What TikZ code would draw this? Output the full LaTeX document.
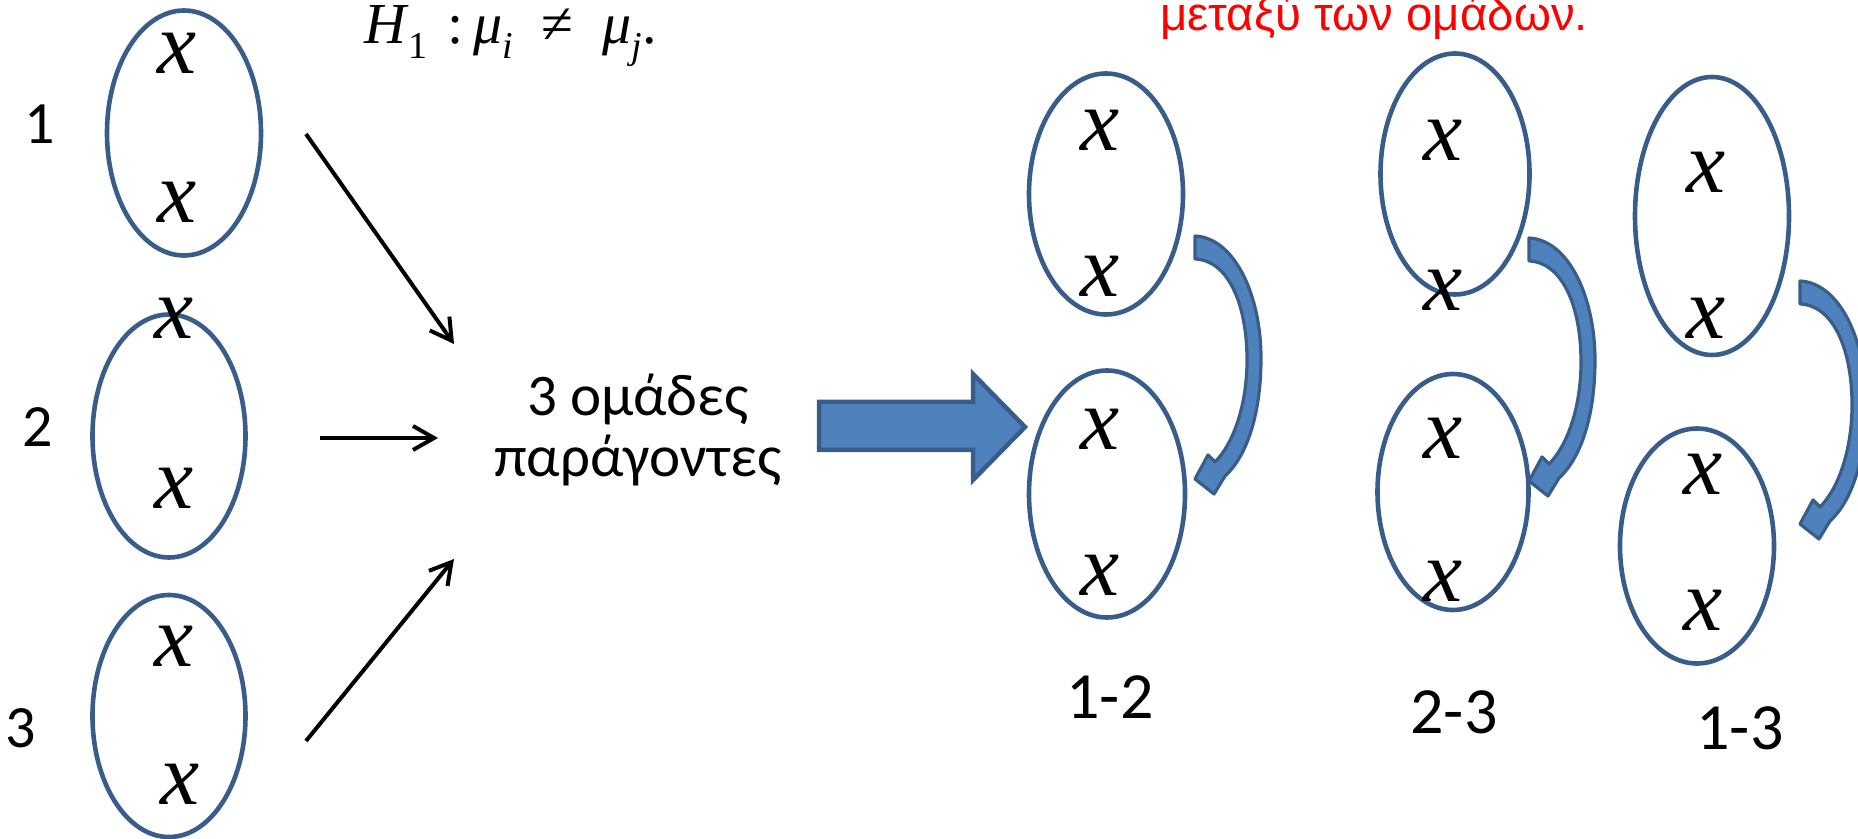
\documentclass[tikz,border=0pt]{standalone}
\usepackage{fontspec}
\usetikzlibrary{shapes.geometric,arrows.meta}
\newfontfamily\calfont{Carlito}
\newfontfamily\lser{Liberation Serif}
\newfontfamily\lsans{Liberation Sans}
\definecolor{ol}{HTML}{385D8A}
\definecolor{fl}{HTML}{4F81BD}
\newcommand\curvarrow[1]{%
  \filldraw[curv,shift={#1}] (0,0) .. controls (40,2) and (66,60) .. (66,122)
    .. controls (66,182) and (50,222) .. (30,240)
    -- (19,258) -- (0,243) -- (13,219) -- (20,226)
    .. controls (38,208) and (52,170) .. (52,124)
    .. controls (52,66) and (32,24) .. (0,23) -- cycle;}
\newcommand\subtxt[1]{\raisebox{-0.25em}{\fontsize{19}{19}\selectfont #1}}
\begin{document}
\begin{tikzpicture}[x=0.5pt,y=-0.5pt,
  ell/.style={ellipse, draw=ol, line width=2.3pt, inner sep=0pt},
  xx/.style={font=\fontsize{44}{44}\selectfont\lser\itshape, inner sep=0pt},
  lab/.style={font=\fontsize{30}{30}\selectfont\calfont, inner sep=0pt},
  pairlab/.style={font=\fontsize{33}{33}\selectfont\calfont, inner sep=0pt},
  blk/.style={line width=2pt, -{Straight Barb[length=10.5pt,width=12pt]}},
  curv/.style={fill=fl, draw=ol, line width=1.6pt, line join=round},
]
\useasboundingbox (0,0) rectangle (1858,839);
\clip (0,0) rectangle (1858,839);

% header texts
\node[anchor=base west, inner sep=0pt, font=\fontsize{29}{29}\selectfont\lser] (h1) at (364,44)
  {\textit{H}\subtxt{1}\,\,:\,\textit{μ}\subtxt{\textit{i}}\enspace≠\enspace\textit{μ}\subtxt{\textit{j}}.};
\node[anchor=base west, inner sep=0pt, text=red, font=\fontsize{23.7}{24}\selectfont\lsans] (red) at (1160,31) {μεταξύ των ομάδων.};

% left groups
\node[ell, minimum width=77pt, minimum height=122.5pt] (E1) at (184,133) {};
\node[ell, minimum width=76.5pt, minimum height=121.5pt] (E2) at (169,436) {};
\node[ell, minimum width=76.5pt, minimum height=121pt] (E3) at (169,716) {};
\node[xx] (e1a) at (177,53) {x};
\node[xx] (e1b) at (177,202) {x};
\node[xx] (e2a) at (174,318) {x};
\node[xx] (e2b) at (174,488) {x};
\node[xx] (e3a) at (174,646) {x};
\node[xx] (e3b) at (180,784) {x};
\node[lab] (l1) at (40,124) {1};
\node[lab] (l2) at (38,427) {2};
\node[lab] (l3) at (21,728) {3};

% centre text
\node[anchor=base, align=center, inner sep=0pt, font=\fontsize{29.5}{31}\selectfont\calfont] (grp) at (638,477) {3 ομάδες\\παράγοντες};

% black arrows
\coordinate (a1s) at (306,134); \coordinate (a1e) at (454,344);
\coordinate (a2s) at (320,438); \coordinate (a2e) at (438,438);
\coordinate (a3s) at (306,741); \coordinate (a3e) at (454,559);
\draw[blk] (a1s) -- (a1e);
\draw[blk] (a2s) -- (a2e);
\draw[blk] (a3s) -- (a3e);

% big arrow
\filldraw[fill=fl, draw=ol, line width=2.25pt] (819,402) -- (973,402) -- (973,374) -- (1025,427) -- (973,480) -- (973,450) -- (819,450) -- cycle;

% right groups
\node[ell, minimum width=77pt, minimum height=120.5pt] (A1) at (1106,194) {};
\node[ell, minimum width=78pt, minimum height=123.5pt] (A2) at (1107,494) {};
\node[ell, minimum width=74.5pt, minimum height=120.5pt] (B1) at (1455,174) {};
\node[ell, minimum width=75.5pt, minimum height=118pt] (B2) at (1453,492) {};
\node[ell, minimum width=77pt, minimum height=139pt] (C1) at (1712,216) {};
\node[ell, minimum width=77pt, minimum height=117.5pt] (C2) at (1697,546) {};
\node[xx] (a1a) at (1100,130) {x};
\node[xx] (a1b) at (1100,276) {x};
\node[xx] (a2a) at (1100,429) {x};
\node[xx] (a2b) at (1100,575) {x};
\node[xx] (b1a) at (1443,140) {x};
\node[xx] (b1b) at (1443,290) {x};
\node[xx] (b2a) at (1443,438) {x};
\node[xx] (b2b) at (1443,581) {x};
\node[xx] (c1a) at (1706,172) {x};
\node[xx] (c1b) at (1706,318) {x};
\node[xx] (c2a) at (1703,474) {x};
\node[xx] (c2b) at (1703,610) {x};

\curvarrow{(1195,236)}
\curvarrow{(1529,238)}
\curvarrow{(1800,281)}

\node[pairlab] (p12) at (1110,697) {1-2};
\node[pairlab] (p23) at (1454,712) {2-3};
\node[pairlab] (p13) at (1740,728) {1-3};
\end{tikzpicture}
\end{document}
